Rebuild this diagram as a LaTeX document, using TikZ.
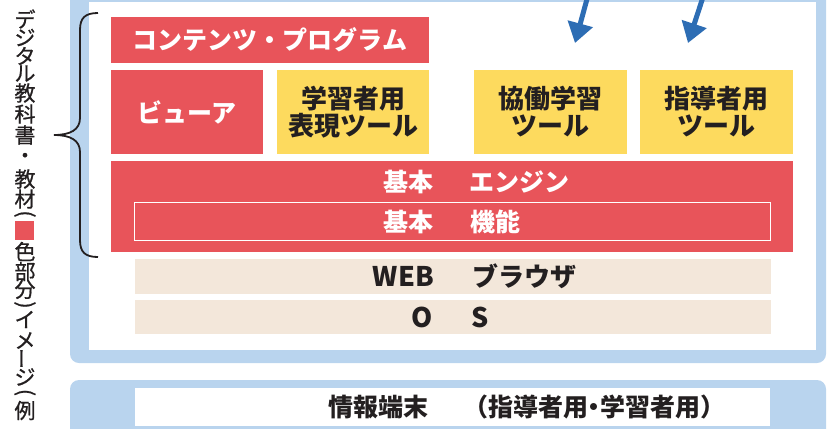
\documentclass[tikz,border=0pt]{standalone}
\usepackage{fontspec}
\usepackage{graphicx}
\newfontfamily\jp{Noto Sans CJK JP}
\newfontfamily\jpv[FakeBold=0.8]{Noto Sans CJK JP}
\newfontfamily\jph[RawFeature=+halt]{Noto Sans CJK JP}
\usetikzlibrary{arrows.meta}
\definecolor{cred}{HTML}{E8545A}
\definecolor{cyellow}{HTML}{FDDA5E}
\definecolor{ctan}{HTML}{F3E7DA}
\definecolor{cblue}{HTML}{B9D4EE}
\definecolor{carrow}{HTML}{2D6DB4}
\definecolor{cdark}{HTML}{231F20}
\newcommand\twopart[4]{\makebox[0pt][r]{#1\hspace{#3}}\makebox[0pt][l]{\hspace{#4}#2}}
\newcommand\latn[1]{{\fontsize{27bp}{27bp}\selectfont #1}}
\begin{document}
\begin{tikzpicture}[x=1bp,y=-1bp,
  basebox/.style={inner sep=0pt, outer sep=0pt, align=center},
  wfont/.style={font=\jp\bfseries\fontsize{25bp}{27bp}\selectfont},
  dfont/.style={font=\jp\bfseries\fontsize{26bp}{27bp}\selectfont},
  redbox/.style={basebox, fill=cred, text=white, wfont},
  yellowbox/.style={basebox, fill=cyellow, text=cdark, dfont},
  tanbox/.style={basebox, fill=ctan, text=cdark, dfont},
  whitebox/.style={basebox, fill=white, text=cdark, font=\jph\bfseries\fontsize{25bp}{27bp}\selectfont},
  vchar/.style={inner sep=0pt, text=cdark, font=\jpv\fontsize{21bp}{21bp}\selectfont},
  bluearrow/.style={carrow, line width=5bp, -{Triangle[width=25bp,length=20bp]}}
]
\useasboundingbox (0,0) rectangle (827,428);
\clip (0,0) rectangle (827,428);
% frames
\fill[cblue, rounded corners=9bp] (70,-30) rectangle (826,363);
\fill[white] (89,2) rectangle (816,350);
\fill[cblue, rounded corners=9bp] (70,380) rectangle (826,470);
% arrows
\coordinate (a1s) at (590,-12);
\coordinate (a1e) at (575,43);
\coordinate (a2s) at (706,-12);
\coordinate (a2e) at (688,43);
\draw[bluearrow] (a1s) -- (a1e);
\draw[bluearrow] (a2s) -- (a2e);
% boxes
\node[redbox, minimum width=318bp, minimum height=46bp] (cp) at (270,40) {コンテンツ・プログラム};
\node[redbox, minimum width=152bp, minimum height=84bp] (viewer) at (187,112) {ビューア};
\node[yellowbox, minimum width=152bp, minimum height=84bp] (learner) at (353,112) {学習者用\\表現ツール};
\node[yellowbox, minimum width=153bp, minimum height=84bp] (collab) at (550.5,112) {協働学習\\ツール};
\node[yellowbox, minimum width=153bp, minimum height=84bp] (teacher) at (716.5,112) {指導者用\\ツール};
\node[redbox, minimum width=682bp, minimum height=91bp] (engine) at (452,206.5) {};
\node[basebox, text=white, wfont] (enginelabel) at (452,182) {\twopart{基本}{エンジン}{19bp}{18bp}};
\node[redbox, draw=white, line width=1bp, minimum width=635bp, minimum height=38bp] (func) at (452.5,221.5) {\twopart{基本}{機能}{19bp}{18bp}};
\node[tanbox, minimum width=636bp, minimum height=35bp] (web) at (453,276.5) {\twopart{\latn{WEB}}{ブラウザ}{19bp}{19bp}};
\node[tanbox, minimum width=636bp, minimum height=34bp] (os) at (453,317) {\twopart{\latn{O}}{\latn{S}}{20bp}{19bp}};
\node[whitebox, minimum width=635bp, minimum height=38bp] (term) at (452.5,407) {\twopart{情報端末}{（指導者用・学習者用）}{24bp}{23bp}};
% brace
\draw[cdark, line width=1.8bp] (98,13) .. controls (85,13) and (80,18) .. (80,30) -- (80,118) .. controls (80,130) and (70,135) .. (54,135) .. controls (70,135) and (80,140) .. (80,152) -- (80,240) .. controls (80,252) and (85,257) .. (98,257);
% vertical title
\foreach \c/\y [count=\i] in {デ/19, ジ/37.5, タ/56, ル/73.5, 教/93, 科/114, 書/135, ・/158, 教/179, 材/199, 色/251.5, 部/271.5, 分/289.5, イ/319.5, メ/340.5, ジ/377, 例/410.5}
  \node[vchar] (v\i) at (25,\y) {\c};
\node[vchar] (vpa) at (25,214) {\rotatebox{-90}{(}};
\node[vchar] (vpb) at (25,305) {\rotatebox{-90}{)}};
\node[vchar] (vpc) at (25,392.5) {\rotatebox{-90}{(}};
\node[vchar] (vbar) at (25,358.5) {\rotatebox{90}{ー}};
\fill[cred] (15,221) rectangle (34,240);
\end{tikzpicture}
\end{document}
